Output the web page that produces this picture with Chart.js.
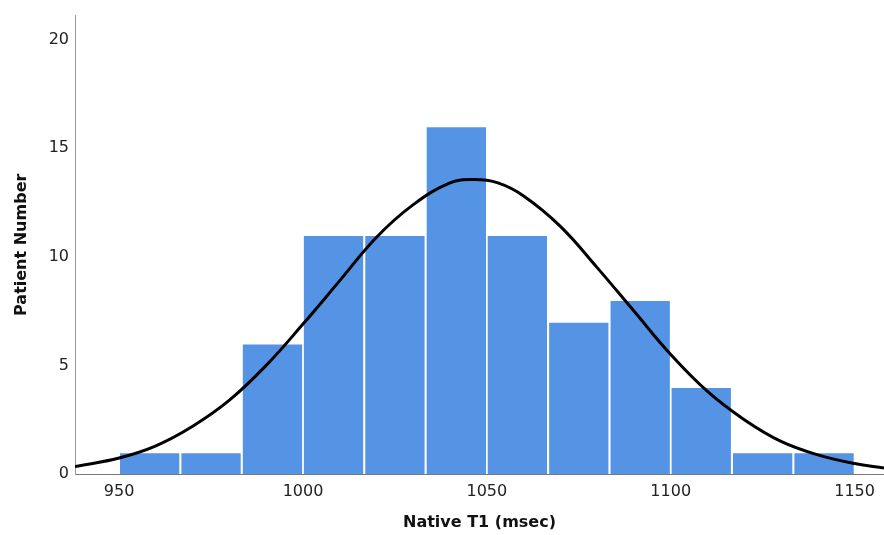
<!DOCTYPE html>
<html>
<head>
<meta charset="utf-8">
<script src="https://cdn.jsdelivr.net/npm/chart.js@4"></script>
<style>
  html, body { margin: 0; padding: 0; background: #fff; }
  #wrap { width: 884px; height: 535px; }
</style>
</head>
<body>
<div id="wrap"><canvas id="hist"></canvas></div>
<script>
// histogram bins (centres, msec) and counts
const binCentres = [958.3, 975, 991.7, 1008.3, 1025, 1041.7, 1058.3, 1075, 1091.7, 1108.3, 1125, 1141.7];
const counts = [1, 1, 6, 11, 11, 16, 11, 7, 8, 4, 1, 1];

// normal curve
const curveX = [938, 950, 960, 970, 980, 990, 1000, 1010, 1020, 1030, 1040, 1046.5,
                1053, 1060, 1070, 1080, 1090, 1100, 1110, 1120, 1130, 1140, 1150, 1158];
const curveY = [0.34, 0.74, 1.3, 2.2, 3.4, 5.0, 6.9, 8.9, 10.9, 12.4, 13.4, 13.55,
                13.4, 12.8, 11.4, 9.5, 7.5, 5.5, 3.8, 2.5, 1.5, 0.88, 0.48, 0.28];

const xTicks = [950, 1000, 1050, 1100, 1150];
const yTicks = [0, 5, 10, 15, 20];

const tickFont = { family: '"DejaVu Sans", sans-serif', size: 16 };
const titleFont = { family: '"DejaVu Sans", sans-serif', size: 16, weight: 'bold' };

new Chart(document.getElementById('hist'), {
  type: 'bar',
  data: {
    datasets: [{
      type: 'line',
      label: 'Normal',
      data: curveX.map((x, i) => ({ x: x, y: curveY[i] })),
      borderColor: '#000',
      borderWidth: 3,
      pointRadius: 0,
      tension: 0.4,
      fill: false
    }, {
      label: 'Patients',
      data: binCentres.map((x, i) => ({ x: x, y: counts[i] })),
      backgroundColor: '#5594e4',
      borderColor: '#ffffff',
      borderWidth: 1.2,
      barPercentage: 1,
      categoryPercentage: 1
    }]
  },
  options: {
    responsive: true,
    maintainAspectRatio: false,
    animation: false,
    layout: { padding: { left: 0, top: 14, right: 0, bottom: 0 } },
    plugins: { legend: { display: false }, tooltip: { enabled: false } },
    scales: {
      x: {
        type: 'linear',
        offset: false,
        min: 938,
        max: 1158,
        afterBuildTicks: s => { s.ticks = xTicks.map(v => ({ value: v })); },
        afterFit: s => { s.height = 61; },
        grid: { display: false, drawTicks: false },
        border: { display: true, color: '#777', width: 1 },
        ticks: { color: '#222', font: tickFont, padding: 8, maxRotation: 0, callback: v => String(v) },
        title: { display: true, text: 'Native T1 (msec)', color: '#111', font: titleFont, padding: { top: 0, bottom: 3 } }
      },
      y: {
        min: 0,
        max: 21.1,
        afterBuildTicks: s => { s.ticks = yTicks.map(v => ({ value: v })); },
        afterFit: s => { s.width = 75; },
        grid: { display: false, drawTicks: false },
        border: { display: true, color: '#999', width: 1 },
        ticks: { color: '#222', font: tickFont, padding: 6 },
        title: { display: true, text: 'Patient Number', color: '#111', font: titleFont, padding: { top: 12, bottom: 0 } }
      }
    }
  }
});
</script>
</body>
</html>
